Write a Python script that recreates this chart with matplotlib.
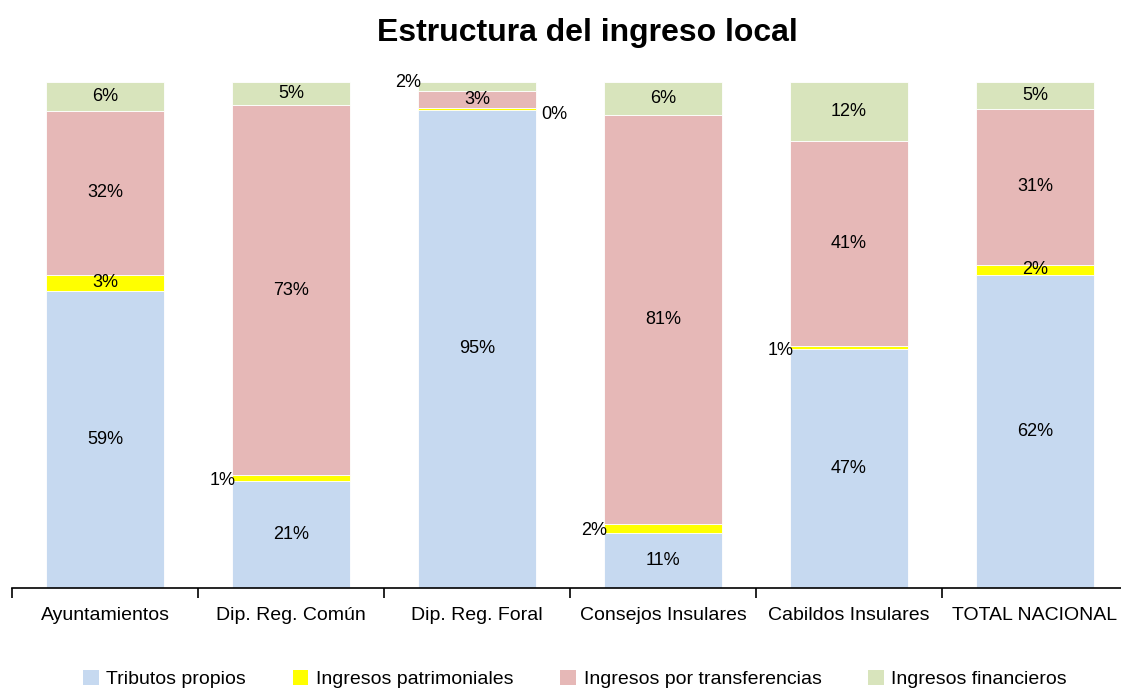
import numpy as np
import matplotlib.pyplot as plt
from matplotlib.patches import Patch

# Data
categorias = ['Ayuntamientos', 'Dip. Reg. Común', 'Dip. Reg. Foral',
              'Consejos Insulares', 'Cabildos Insulares', 'TOTAL NACIONAL']
tributos = [58.7, 21.1, 94.5, 10.9, 47.2, 61.9]
patrimoniales = [3.2, 1.2, 0.3, 1.8, 0.6, 2.0]
transferencias = [32.4, 73.1, 3.4, 80.8, 40.5, 30.8]
financieros = [5.7, 4.6, 1.8, 6.5, 11.7, 5.3]
etq_tributos = ['59%', '21%', '95%', '11%', '47%', '62%']
etq_patrimoniales = ['3%', '1%', '0%', '2%', '1%', '2%']
etq_transferencias = ['32%', '73%', '3%', '81%', '41%', '31%']
etq_financieros = ['6%', '5%', '2%', '6%', '12%', '5%']
series = ['Tributos propios', 'Ingresos patrimoniales',
          'Ingresos por transferencias', 'Ingresos financieros']

# where each label goes: c = centred, l = left of bar, r = right of bar
pos_tributos = ['c'] * 6
pos_patrimoniales = ['c', 'l', 'r', 'l', 'l', 'c']
pos_transferencias = ['c'] * 6
pos_financieros = ['c', 'c', 'l', 'c', 'c', 'c']

colores = ['#C6D9F0', '#FFFF00', '#E6B8B7', '#D8E4BC']

plt.rcParams['font.family'] = ['Liberation Sans', 'DejaVu Sans']

fig = plt.figure(figsize=(11.21, 6.89), dpi=100)
ax = fig.add_axes([12 / 1121, 1 - 588 / 689, 1116 / 1121, (588 - 82) / 689])

x = np.arange(len(categorias))
ancho = 0.63
datos = [tributos, patrimoniales, transferencias, financieros]
etiquetas = [etq_tributos, etq_patrimoniales, etq_transferencias, etq_financieros]
posiciones = [pos_tributos, pos_patrimoniales, pos_transferencias, pos_financieros]

base = np.zeros(len(categorias))
for serie, valores, color, etqs, poss in zip(series, datos, colores, etiquetas, posiciones):
    valores = np.array(valores)
    ax.bar(x, valores, ancho, bottom=base, color=color, edgecolor='white',
           linewidth=0.6, label=serie)
    for i, (v, t, p) in enumerate(zip(valores, etqs, poss)):
        yc = base[i] + v / 2
        if p == 'c':
            ax.text(x[i], yc, t, ha='center', va='center', fontsize=13)
        elif p == 'r':
            ax.text(x[i] + ancho / 2 + 0.03, yc - 1.1, t, ha='left',
                    va='center', fontsize=13)
        else:
            dy = 0.8 if serie == 'Ingresos financieros' else -0.5
            ax.text(x[i] - ancho / 2 + 0.015, yc + dy, t, ha='right',
                    va='center', fontsize=13)
    base = base + valores

ax.set_ylim(0, 100)
ax.set_xlim(-0.5, len(categorias) - 0.5)
ax.set_yticks([])
for s in ['top', 'right', 'left']:
    ax.spines[s].set_visible(False)
ax.spines['bottom'].set_linewidth(1.2)
ax.set_xticks(np.arange(len(categorias) + 1) - 0.5, minor=True)
ax.set_xticks(x)
ax.set_xticklabels(categorias, fontsize=14)
ax.tick_params(axis='x', which='major', length=0, pad=14)
ax.tick_params(axis='x', which='minor', length=7, width=1.2, direction='out')

fig.text(0.524, 0.952, 'Estructura del ingreso local', ha='center',
         va='center', fontsize=23, fontweight='bold')

handles = [Patch(facecolor=c, edgecolor='none') for c in colores]
fig.legend(handles, series, loc='center', bbox_to_anchor=(0.513, 0.014),
           ncol=4, frameon=False, fontsize=14, handlelength=0.8,
           handleheight=0.8, handletextpad=0.4, columnspacing=2.4)

fig.savefig('out.png', dpi=100)
